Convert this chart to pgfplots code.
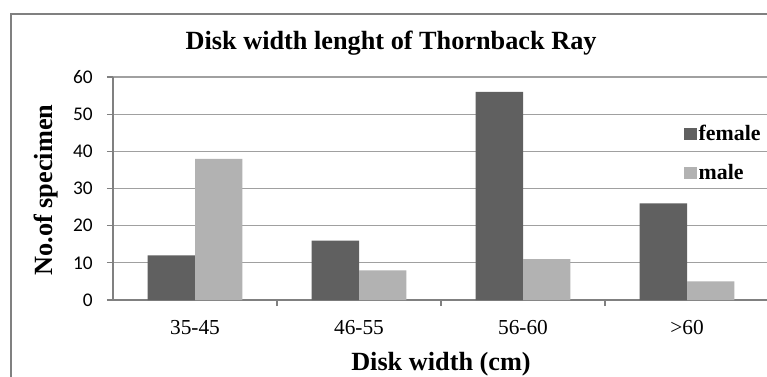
\documentclass[border=0pt]{standalone}
\usepackage{pgfplots}
\pgfplotsset{compat=1.18}
\usepackage{fontspec}
\setmainfont{Liberation Serif}
\setsansfont{Liberation Sans}
\newfontfamily\tickfont{Carlito}

\definecolor{femalecol}{RGB}{96,96,96}
\definecolor{malecol}{RGB}{178,178,178}
\definecolor{gridcol}{RGB}{160,160,160}
\definecolor{framecol}{RGB}{128,128,128}

\begin{document}
\begin{tikzpicture}
    % page = 767 x 376 px, 1px = 0.75pt
    \useasboundingbox (0,0) rectangle (575.25pt,282pt);
    \fill[white] (0,0) rectangle (575.25pt,282pt);
    \clip (0,0) rectangle (575.25pt,282pt);
    \draw[framecol, line width=1.5pt] (8.25pt,271.5pt) rectangle (620pt,-30pt);
    \begin{axis}[
        at = {(84.75pt,57pt)}, anchor = south west,
        scale only axis,
        width = 492pt, height = 167.25pt,
        ybar = 0pt, bar width = 35.6pt,
        xmin = -0.5, xmax = 3.5,
        ymin = 0, ymax = 60,
        xtick = {0,1,2,3},
        xticklabels = {35-45, 46-55, 56-60, {>60}},
        minor xtick = {0.5,1.5,2.5},
        ytick = {0,10,...,60},
        axis x line* = bottom, axis y line* = left,
        axis line style = {-, framecol, line width=0.9pt},
        ymajorgrids = true,
        grid style = {gridcol, line width=0.9pt},
        tick align = outside,
        major tick length = 4.5pt, minor tick length = 4.5pt,
        major x tick style = {draw=none},
        tick style = {framecol, line width=0.9pt},
        /pgf/number format/assume math mode = true,
        yticklabel style = {font=\fontsize{14.5}{14.5}\tickfont, xshift=-7.2pt},
        xticklabel style = {font=\fontsize{16}{16}\selectfont, yshift=-7.5pt},
        title = {Disk width lenght of Thornback Ray},
        title style = {at={(axis description cs:0.424,1.150)}, anchor=center, yshift=-6pt,
            font=\fontsize{19.7}{22}\selectfont\bfseries},
        xlabel = {Disk width (cm)},
        xlabel style = {at={(axis description cs:0.5,-0.29)}, anchor=center,
            font=\fontsize{19.7}{22}\selectfont\bfseries},
        ylabel = {No.of specimen},
        ylabel style = {at={(axis description cs:-0.102,0.493)}, anchor=center,
            font=\fontsize{19.7}{22}\selectfont\bfseries},
        legend style = {at={(axis description cs:0.870,0.657)}, anchor=west,
            draw=none, fill=none, inner sep=0pt, row sep=13pt,
            nodes={inner sep=1.5pt},
            font=\fontsize{16.4}{18}\selectfont\bfseries},
        legend cell align = left,
        legend image code/.code = {\fill[#1] (0pt,-4.5pt) rectangle (9.5pt,4.5pt);},
        ]
        \addplot[fill=femalecol, draw=none] coordinates {
            (0, 12)
            (1, 16)
            (2, 56)
            (3, 26)
        };
        \addplot[fill=malecol, draw=none] coordinates {
            (0, 38)
            (1, 8)
            (2, 11)
            (3, 5)
        };
        \legend{female, male}
    \end{axis}
\end{tikzpicture}
\end{document}
